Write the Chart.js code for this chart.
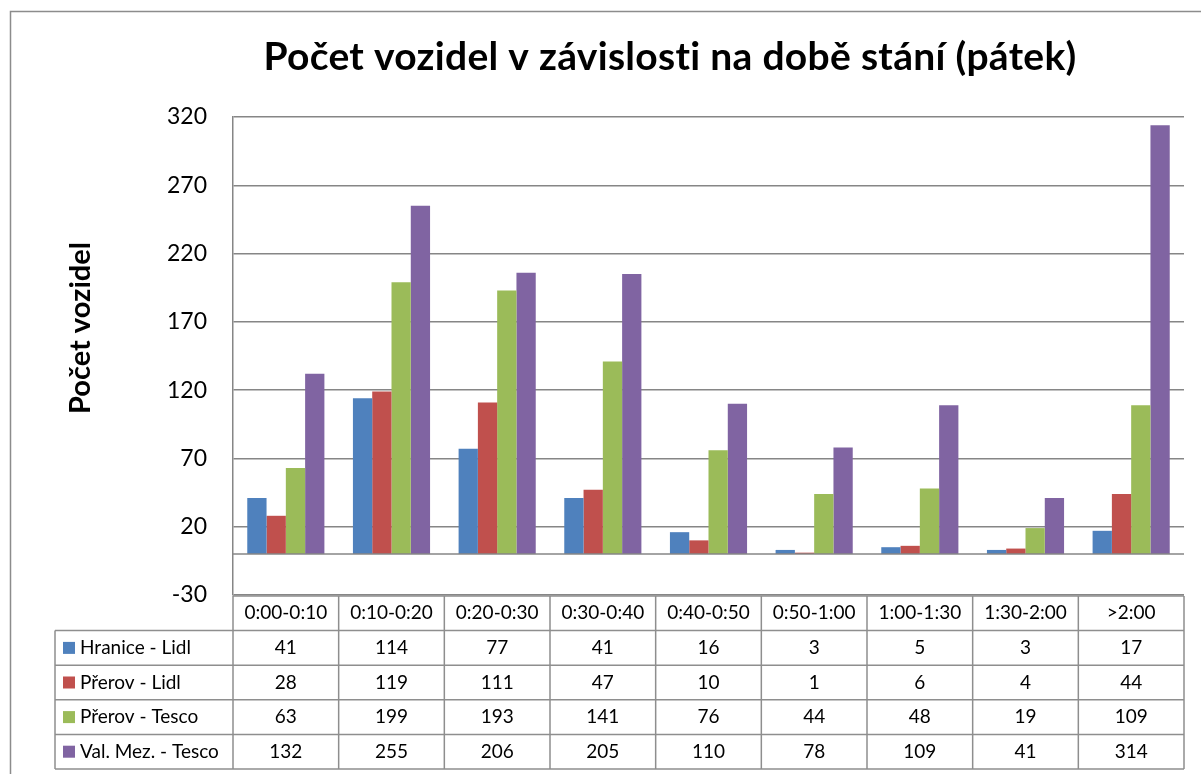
<!DOCTYPE html>
<html lang="cs">
<head>
<meta charset="utf-8">
<title>Počet vozidel v závislosti na době stání (pátek)</title>
<script src="https://cdn.jsdelivr.net/npm/chart.js@4.4.1/dist/chart.umd.min.js"></script>
<style>
    html, body { margin: 0; padding: 0; background: #ffffff; }
    #wrap { width: 1201px; height: 774px; }
</style>
</head>
<body>
<div id="wrap"><canvas id="graf" width="1201" height="774"></canvas></div>
<script>
// --- DATA ---
const kategorie = ['0:00-0:10', '0:10-0:20', '0:20-0:30', '0:30-0:40', '0:40-0:50', '0:50-1:00', '1:00-1:30', '1:30-2:00', '>2:00'];
const nazvyRad = ['Hranice - Lidl', 'Přerov - Lidl', 'Přerov - Tesco', 'Val. Mez. - Tesco'];
const hraniceLidl = [41, 114, 77, 41, 16, 3, 5, 3, 17];
const prerovLidl  = [28, 119, 111, 47, 10, 1, 6, 4, 44];
const prerovTesco = [63, 199, 193, 141, 76, 44, 48, 19, 109];
const valMezTesco = [132, 255, 206, 205, 110, 78, 109, 41, 314];
const yTicks = [-30, 20, 70, 120, 170, 220, 270, 320];

const barvy = ['#4F81BD', '#C0504D', '#9BBB59', '#8064A2'];
const FONT = 'Lato, "Liberation Sans", sans-serif';
const SEDA = '#868686';

// Titulek, popisek osy, nulova cara a tabulka dat pod grafem
const tabulkaPlugin = {
    id: 'tabulka',
    afterDatasetsDraw(chart) {
        const ctx = chart.ctx;
        const y = chart.scales.y;
        const area = chart.chartArea;
        const y0 = y.getPixelForValue(0);
        ctx.save();
        ctx.strokeStyle = SEDA;
        ctx.lineWidth = 1.5;
        ctx.beginPath();
        ctx.moveTo(area.left, y0);
        ctx.lineTo(area.right, y0);
        ctx.stroke();
        ctx.restore();
    },
    afterDraw(chart) {
        const ctx = chart.ctx;
        const x = chart.scales.x;
        const area = chart.chartArea;
        const rady = chart.data.datasets;
        const sirka = (area.right - area.left) / kategorie.length;
        const rowH = 34.6;
        const top = area.bottom + 1;
        const legLeft = 55;

        ctx.save();
        // vnejsi ramecek
        ctx.strokeStyle = '#8c8c8c';
        ctx.lineWidth = 1.5;
        ctx.beginPath();
        ctx.moveTo(10.5, 780);
        ctx.lineTo(10.5, 11.5);
        ctx.lineTo(1210, 11.5);
        ctx.stroke();

        // titulek (letterSpacing kvuli ligature "ti" v Lato)
        ctx.fillStyle = '#000';
        ctx.font = 'bold 39px ' + FONT;
        ctx.textAlign = 'center';
        ctx.textBaseline = 'middle';
        ctx.letterSpacing = '0.3px';
        ctx.fillText('Počet vozidel v závislosti na době stání (pátek)', 670, 57);
        ctx.letterSpacing = '0px';

        // popisek osy y
        ctx.save();
        ctx.translate(81, 328);
        ctx.rotate(-Math.PI / 2);
        ctx.font = 'bold 29px ' + FONT;
        ctx.fillText('Počet vozidel', 0, 0);
        ctx.restore();

        // mrizka tabulky
        ctx.strokeStyle = '#8e8e8e';
        ctx.lineWidth = 1.5;
        const spodek = top + rowH * (rady.length + 1);
        ctx.beginPath();
        // vodorovne cary
        ctx.moveTo(area.left, top);
        ctx.lineTo(area.right, top);
        for (let r = 1; r <= rady.length + 1; r++) {
            ctx.moveTo(legLeft, top + rowH * r);
            ctx.lineTo(area.right, top + rowH * r);
        }
        // svisle cary
        for (let i = 0; i <= kategorie.length; i++) {
            const px = area.left + sirka * i;
            ctx.moveTo(px, top);
            ctx.lineTo(px, spodek);
        }
        ctx.moveTo(legLeft, top + rowH);
        ctx.lineTo(legLeft, spodek);
        ctx.stroke();

        // texty
        ctx.font = '19px ' + FONT;
        ctx.fillStyle = '#000';
        ctx.textAlign = 'center';
        kategorie.forEach((k, i) => {
            ctx.fillText(k, x.getPixelForValue(i), top + rowH / 2);
        });
        rady.forEach((ds, r) => {
            const cy = top + rowH * (r + 1.5);
            ctx.fillStyle = ds.backgroundColor;
            ctx.fillRect(63, cy - 6, 12, 12);
            ctx.fillStyle = '#000';
            ctx.textAlign = 'left';
            ctx.fillText(ds.label, 80, cy);
            ctx.textAlign = 'center';
            ds.data.forEach((v, i) => {
                ctx.fillText(String(v), x.getPixelForValue(i), cy);
            });
        });
        ctx.restore();
    }
};

const data = [hraniceLidl, prerovLidl, prerovTesco, valMezTesco];

new Chart(document.getElementById('graf'), {
    type: 'bar',
    data: {
        labels: kategorie,
        datasets: nazvyRad.map((n, i) => ({
            label: n,
            data: data[i],
            backgroundColor: barvy[i],
            borderWidth: 0,
            barPercentage: 1,
            categoryPercentage: 0.73
        }))
    },
    options: {
        responsive: false,
        animation: false,
        layout: { padding: { left: 0, right: 17, top: 117, bottom: 179 } },
        plugins: {
            legend: { display: false },
            title: { display: false },
            tooltip: { enabled: false }
        },
        scales: {
            x: { display: false },
            y: {
                min: -30,
                max: 320,
                afterBuildTicks(scale) {
                    scale.ticks = yTicks.map(v => ({ value: v }));
                },
                afterFit(scale) { scale.width = 233; },
                grid: { color: SEDA, lineWidth: 1.5, drawTicks: false },
                border: { color: SEDA, width: 1.5 },
                ticks: {
                    color: '#000',
                    padding: 26,
                    font: { family: FONT, size: 23 }
                }
            }
        }
    },
    plugins: [tabulkaPlugin]
});
</script>
</body>
</html>
